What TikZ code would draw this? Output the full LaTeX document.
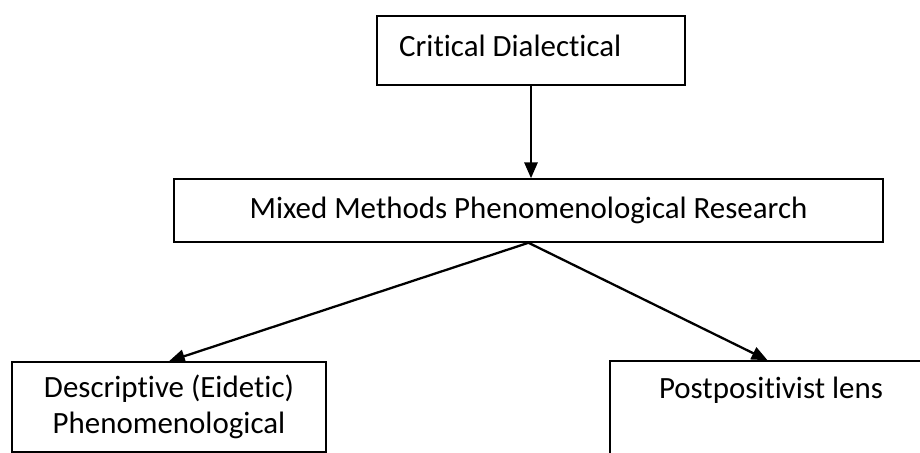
\documentclass[tikz,border=0pt]{standalone}
\usepackage{fontspec}
\setmainfont{Carlito}[Ligatures=NoCommon]
\usetikzlibrary{arrows.meta}

\begin{document}
\begin{tikzpicture}[x=0.02cm, y=-0.02cm, line width=1.3pt,
  arrows={-Triangle[length=9pt,width=7.5pt]},
  box/.style={draw, line width=0.9pt, rectangle, inner sep=0pt, align=center,
    font=\fontsize{17.6}{20.6}\selectfont},
  txt/.style={anchor=base, inner sep=0pt, font=\fontsize{17.6}{20.6}\selectfont}]
	\useasboundingbox (0,0) rectangle (920,453);
	\clip (0,0) rectangle (920,453);
	\node[box, minimum width=6.16cm, minimum height=1.38cm] (crit) at (531,50.5) {};
	\node[txt, anchor=base west] (critlbl) at (398,56) {Critical Dialectical};
	\node[box, minimum width=14.18cm, minimum height=1.26cm] (mixed) at (528.5,210.5) {Mixed Methods Phenomenological Research};
	\node[box, minimum width=6.28cm, minimum height=1.8cm] (desc) at (169,407) {Descriptive (Eidetic)\\Phenomenological};
	\node[box, minimum width=6.3cm, minimum height=2.18cm] (post) at (767.5,415.5) {};
	\node[txt] (postlbl) at (771,398) {Postpositivist lens};
	\draw (crit.south) -- (crit.south |- mixed.north);
	\draw (mixed.south) -- (desc.north);
	\draw (mixed.south) -- (post.north);
\end{tikzpicture}
\end{document}
